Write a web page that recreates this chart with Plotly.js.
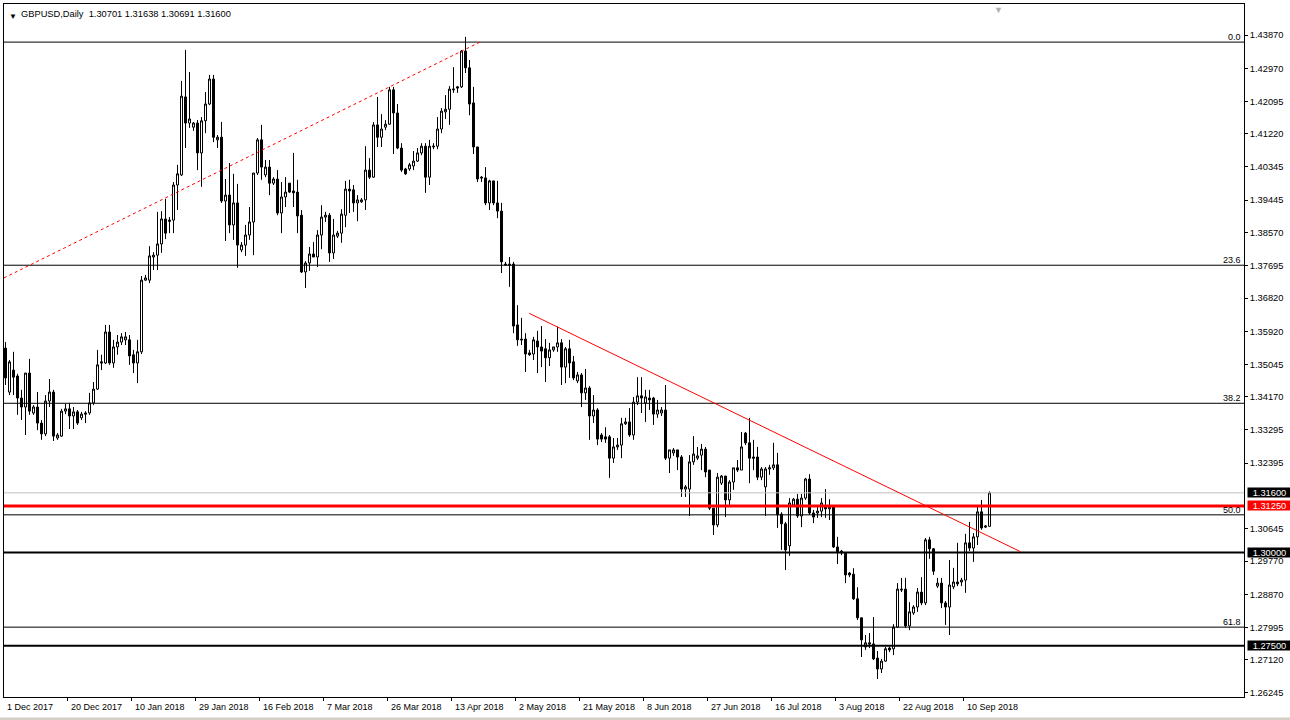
<!DOCTYPE html>
<html><head><meta charset="utf-8">
<script src="https://cdn.plot.ly/plotly-3.0.1.min.js"></script>
<style>html,body{margin:0;padding:0;background:#fff;overflow:hidden}#chart{width:1290px;height:720px;}</style>
</head><body><div id="chart"></div>
<script>
const symbolName = "GBPUSD,Daily";
const lastBarText = ["1.30701", "1.31638", "1.30691", "1.31600"];

const opens = [1.3548,1.3430,1.3489,1.3473,1.3414,1.3390,1.3481,1.3374,1.3390,1.3347,1.3318,1.3406,1.3430,1.3307,1.3312,1.3379,1.3385,1.3366,1.3377,1.3361,1.3374,1.3374,1.3401,1.3438,1.3511,1.3508,1.3591,1.3508,1.3551,1.3564,1.3570,1.3570,1.3530,1.3508,1.3538,1.3730,1.3730,1.3792,1.3797,1.3827,1.3894,1.3891,1.3891,1.3985,1.4012,1.4221,1.4151,1.4140,1.4151,1.4071,1.4157,1.4202,1.4269,1.4106,1.4113,1.3942,1.3958,1.3878,1.3937,1.3811,1.3824,1.3851,1.3886,1.4017,1.4106,1.4012,1.4033,1.3990,1.4001,1.3910,1.3953,1.3990,1.3969,1.3966,1.3904,1.3752,1.3776,1.3800,1.3792,1.3851,1.3899,1.3904,1.3803,1.3848,1.3856,1.3904,1.3974,1.3972,1.3937,1.3940,1.3945,1.4025,1.4006,1.4146,1.4113,1.4140,1.4148,1.4240,1.4178,1.4084,1.4028,1.4028,1.4036,1.4049,1.4071,1.4089,1.4006,1.4087,1.4089,1.4135,1.4181,1.4188,1.4240,1.4248,1.4248,1.4344,1.4299,1.4205,1.4087,1.4006,1.4004,1.3937,1.3996,1.3937,1.3915,1.3773,1.3773,1.3773,1.3610,1.3572,1.3572,1.3535,1.3532,1.3567,1.3551,1.3546,1.3522,1.3543,1.3551,1.3562,1.3497,1.3546,1.3511,1.3460,1.3476,1.3428,1.3441,1.3366,1.3382,1.3315,1.3310,1.3310,1.3253,1.3283,1.3288,1.3345,1.3350,1.3315,1.3403,1.3420,1.3401,1.3414,1.3414,1.3371,1.3374,1.3382,1.3253,1.3267,1.3275,1.3256,1.3170,1.3170,1.3243,1.3253,1.3261,1.3277,1.3221,1.3119,1.3074,1.3186,1.3205,1.3141,1.3189,1.3227,1.3221,1.3320,1.3294,1.3256,1.3256,1.3202,1.3176,1.3224,1.3227,1.3235,1.3103,1.3077,1.3018,1.3127,1.3143,1.3098,1.3146,1.3197,1.3106,1.3106,1.3111,1.3122,1.3117,1.3122,1.3015,1.3004,1.2999,1.2945,1.2942,1.2876,1.2825,1.2747,1.2758,1.2755,1.2717,1.2688,1.2709,1.2744,1.2742,1.2800,1.2902,1.2902,1.2803,1.2838,1.2854,1.2894,1.2865,1.3034,1.3010,1.2910,1.2918,1.2865,1.2854,1.2908,1.2921,1.2921,1.2926,1.3026,1.3012,1.3042,1.3109,1.3068,1.30701];
const highs = [1.3564,1.3516,1.3538,1.3479,1.3436,1.3481,1.3519,1.3395,1.3430,1.3355,1.3422,1.3465,1.3436,1.3320,1.3385,1.3398,1.3401,1.3390,1.3382,1.3377,1.3379,1.3428,1.3457,1.3543,1.3530,1.3610,1.3610,1.3570,1.3583,1.3588,1.3591,1.3583,1.3543,1.3570,1.3741,1.3744,1.3821,1.3805,1.3913,1.3915,1.3948,1.3899,1.3993,1.4039,1.4264,1.4347,1.4288,1.4154,1.4159,1.4167,1.4234,1.4280,1.4280,1.4119,1.4154,1.4001,1.4044,1.4015,1.3988,1.3832,1.3878,1.3926,1.4017,1.4111,1.4146,1.4052,1.4052,1.4006,1.4025,1.3993,1.4006,1.3990,1.4071,1.3999,1.3918,1.3781,1.3819,1.3832,1.3864,1.3931,1.3913,1.3910,1.3894,1.3862,1.3920,1.3996,1.3999,1.3985,1.3958,1.3950,1.4089,1.4057,1.4154,1.4221,1.4175,1.4159,1.4248,1.4248,1.4202,1.4097,1.4031,1.4044,1.4076,1.4084,1.4097,1.4097,1.4106,1.4097,1.4167,1.4191,1.4226,1.4250,1.4301,1.4250,1.4347,1.4382,1.4320,1.4248,1.4087,1.4009,1.4033,1.3999,1.3996,1.3996,1.3937,1.3779,1.3792,1.3779,1.3663,1.3629,1.3588,1.3543,1.3578,1.3594,1.3607,1.3572,1.3562,1.3551,1.3605,1.3572,1.3551,1.3570,1.3527,1.3484,1.3481,1.3492,1.3446,1.3422,1.3387,1.3320,1.3336,1.3315,1.3307,1.3307,1.3361,1.3361,1.3387,1.3417,1.3470,1.3470,1.3436,1.3436,1.3417,1.3409,1.3390,1.3449,1.3275,1.3280,1.3275,1.3261,1.3181,1.3261,1.3312,1.3283,1.3291,1.3283,1.3221,1.3119,1.3213,1.3208,1.3205,1.3194,1.3227,1.3248,1.3323,1.3323,1.3361,1.3302,1.3283,1.3229,1.3229,1.3235,1.3294,1.3267,1.3108,1.3082,1.3146,1.3146,1.3157,1.3157,1.3200,1.3210,1.3114,1.3125,1.3146,1.3170,1.3143,1.3127,1.3042,1.3007,1.2999,1.2948,1.2958,1.2907,1.2825,1.2779,1.2784,1.2827,1.2736,1.2715,1.2747,1.2747,1.2808,1.2918,1.2932,1.2932,1.2867,1.2859,1.2905,1.2934,1.3039,1.3042,1.3012,1.2932,1.2932,1.2870,1.2980,1.2959,1.3026,1.2932,1.3050,1.3082,1.3052,1.3122,1.3141,1.3074,1.31638];
const lows = [1.3449,1.3422,1.3422,1.3369,1.3355,1.3315,1.3369,1.3369,1.3328,1.3302,1.3312,1.3390,1.3299,1.3302,1.3310,1.3371,1.3331,1.3331,1.3342,1.3355,1.3347,1.3369,1.3395,1.3436,1.3489,1.3505,1.3503,1.3495,1.3530,1.3556,1.3556,1.3503,1.3481,1.3454,1.3532,1.3728,1.3722,1.3757,1.3757,1.3803,1.3840,1.3856,1.3856,1.3918,1.4009,1.4084,1.4138,1.4130,1.4025,1.3980,1.4124,1.4199,1.4100,1.4084,1.3937,1.3835,1.3856,1.3838,1.3763,1.3805,1.3795,1.3838,1.3797,1.4012,1.3999,1.4006,1.3958,1.3985,1.3904,1.3856,1.3926,1.3964,1.3926,1.3856,1.3749,1.3709,1.3755,1.3792,1.3765,1.3813,1.3886,1.3779,1.3787,1.3843,1.3830,1.3872,1.3910,1.3913,1.3888,1.3937,1.3918,1.4001,1.4004,1.4087,1.4087,1.4132,1.4146,1.4068,1.4081,1.4020,1.4012,1.4023,1.4025,1.4047,1.4065,1.3964,1.3985,1.4081,1.4081,1.4124,1.4162,1.4146,1.4232,1.4232,1.4245,1.4285,1.4172,1.4068,1.3993,1.3993,1.3931,1.3918,1.3931,1.3896,1.3749,1.3768,1.3712,1.3588,1.3554,1.3556,1.3484,1.3527,1.3516,1.3481,1.3497,1.3457,1.3500,1.3538,1.3538,1.3449,1.3454,1.3468,1.3462,1.3454,1.3390,1.3409,1.3302,1.3347,1.3288,1.3296,1.3294,1.3200,1.3240,1.3275,1.3253,1.3342,1.3310,1.3302,1.3395,1.3374,1.3350,1.3382,1.3342,1.3361,1.3366,1.3248,1.3213,1.3259,1.3221,1.3149,1.3149,1.3098,1.3235,1.3248,1.3221,1.3202,1.3114,1.3047,1.3068,1.3181,1.3095,1.3122,1.3168,1.3216,1.3221,1.3288,1.3186,1.3221,1.3194,1.3194,1.3098,1.3208,1.3221,1.3066,1.3007,1.2953,1.2991,1.3122,1.3093,1.3068,1.3141,1.3101,1.3079,1.3093,1.3095,1.3093,1.3087,1.3012,1.2969,1.2993,1.2918,1.2934,1.2873,1.2819,1.2720,1.2739,1.2744,1.2712,1.2661,1.2677,1.2707,1.2733,1.2725,1.2798,1.2894,1.2798,1.2792,1.2833,1.2841,1.2859,1.2859,1.2983,1.2940,1.2905,1.2851,1.2806,1.2779,1.2902,1.2910,1.2910,1.2892,1.3004,1.2975,1.3020,1.3061,1.3066,1.30691];
const closes = [1.3468,1.3511,1.3470,1.3414,1.3390,1.3481,1.3379,1.3390,1.3347,1.3318,1.3406,1.3430,1.3312,1.3315,1.3379,1.3385,1.3366,1.3377,1.3347,1.3371,1.3371,1.3401,1.3438,1.3503,1.3508,1.3591,1.3508,1.3551,1.3564,1.3578,1.3578,1.3527,1.3508,1.3538,1.3730,1.3736,1.3795,1.3797,1.3827,1.3894,1.3856,1.3888,1.3985,1.4015,1.4223,1.4151,1.4162,1.4151,1.4071,1.4157,1.4202,1.4269,1.4113,1.4113,1.3942,1.3958,1.3878,1.3937,1.3824,1.3824,1.3851,1.3886,1.4017,1.4106,1.4033,1.4033,1.3990,1.4001,1.3910,1.3953,1.3966,1.3966,1.3964,1.3902,1.3752,1.3776,1.3800,1.3792,1.3851,1.3899,1.3904,1.3803,1.3851,1.3856,1.3907,1.3974,1.3969,1.3937,1.3945,1.3945,1.4025,1.4006,1.4146,1.4113,1.4135,1.4148,1.4240,1.4178,1.4084,1.4025,1.4015,1.4039,1.4049,1.4071,1.4089,1.4006,1.4089,1.4089,1.4135,1.4183,1.4188,1.4242,1.4242,1.4245,1.4344,1.4299,1.4202,1.4087,1.4001,1.4004,1.3937,1.3996,1.3937,1.3915,1.3779,1.3771,1.3771,1.3607,1.3570,1.3570,1.3532,1.3530,1.3570,1.3551,1.3540,1.3522,1.3543,1.3551,1.3562,1.3497,1.3546,1.3508,1.3468,1.3476,1.3428,1.3441,1.3366,1.3382,1.3304,1.3304,1.3304,1.3253,1.3283,1.3288,1.3345,1.3350,1.3315,1.3403,1.3420,1.3414,1.3417,1.3409,1.3371,1.3382,1.3382,1.3253,1.3275,1.3275,1.3256,1.3170,1.3176,1.3243,1.3264,1.3259,1.3277,1.3216,1.3119,1.3074,1.3202,1.3205,1.3141,1.3189,1.3227,1.3221,1.3283,1.3294,1.3253,1.3253,1.3202,1.3224,1.3224,1.3227,1.3235,1.3101,1.3077,1.3007,1.3133,1.3143,1.3098,1.3146,1.3197,1.3106,1.3095,1.3111,1.3133,1.3117,1.3122,1.3015,1.3001,1.2999,1.2940,1.2940,1.2876,1.2825,1.2766,1.2758,1.2755,1.2715,1.2688,1.2709,1.2742,1.2739,1.2800,1.2902,1.2900,1.2803,1.2841,1.2854,1.2894,1.2865,1.3034,1.3010,1.2950,1.2918,1.2865,1.2854,1.2913,1.2921,1.2916,1.2926,1.3026,1.3012,1.3042,1.3109,1.3066,1.3071,1.31600];

const dateLabels = ["1 Dec 2017","20 Dec 2017","10 Jan 2018","29 Jan 2018","16 Feb 2018","7 Mar 2018","26 Mar 2018","13 Apr 2018","2 May 2018","21 May 2018","8 Jun 2018","27 Jun 2018","16 Jul 2018","3 Aug 2018","22 Aug 2018","10 Sep 2018"];
const barsPerDateLabel = 16;
const priceTicks = [1.43870,1.42970,1.42095,1.41220,1.40345,1.39445,1.38570,1.37695,1.36820,1.35920,1.35045,1.34170,1.33295,1.32395,1.30645,1.29770,1.28870,1.27995,1.27120,1.26245];

const fibLabels = ["0.0","23.6","38.2","50.0","61.8"];
const fibPrices = [1.4368,1.3770,1.3400,1.3101,1.2800];
const roundLevels = [1.3000,1.2750];
const resistanceLevel = 1.3125;
const bidLevel = 1.3160;
const dashedTrendBars = [-0.375,118.6];
const dashedTrendPrices = [1.3736,1.4368];
const solidTrendBars = [130.95,253.8];
const solidTrendPrices = [1.3641,1.3002];

const idx = opens.map((_, i) => i);
const FONT = "Liberation Sans, Arial, sans-serif";

const trace = {
  type: 'candlestick', x: idx, open: opens, high: highs, low: lows, close: closes,
  increasing: {line: {color: '#000000', width: 1}, fillcolor: '#ffffff'},
  decreasing: {line: {color: '#000000', width: 1}, fillcolor: '#000000'},
  whiskerwidth: 0, hoverinfo: 'skip', showlegend: false
};

const shapes = [];
fibPrices.forEach(p => shapes.push({type:'line', xref:'paper', x0:0, x1:1, yref:'y', y0:p, y1:p, line:{color:'#000000', width:1}}));
shapes.push({type:'line', xref:'paper', x0:0, x1:1, yref:'y', y0:bidLevel, y1:bidLevel, line:{color:'#C0C0C0', width:1}});
roundLevels.forEach(p => shapes.push({type:'line', xref:'paper', x0:0, x1:1, yref:'y', y0:p, y1:p, line:{color:'#000000', width:2}}));
shapes.push({type:'line', xref:'paper', x0:0, x1:1, yref:'y', y0:resistanceLevel, y1:resistanceLevel, line:{color:'#FF0000', width:3}});
shapes.push({type:'line', xref:'x', yref:'y', x0:dashedTrendBars[0], x1:dashedTrendBars[1], y0:dashedTrendPrices[0], y1:dashedTrendPrices[1], line:{color:'#FF0000', width:1, dash:'3px,3px'}});
shapes.push({type:'line', xref:'x', yref:'y', x0:solidTrendBars[0], x1:solidTrendBars[1], y0:solidTrendPrices[0], y1:solidTrendPrices[1], line:{color:'#FF0000', width:1}});
// light grey strip under the window
shapes.push({type:'rect', xref:'paper', yref:'paper', x0:-0.01, x1:1.04, y0:-0.0335, y1:-0.0295, line:{width:0}, fillcolor:'#D4D0C8'});

const annotations = [];
annotations.push({xref:'paper', yref:'paper', x:0, y:1, xanchor:'left', yanchor:'top', xshift:3, yshift:-6, text:'▼', showarrow:false, font:{family:FONT, size:8, color:'#000'}});
annotations.push({xref:'paper', yref:'paper', x:0, y:1, xanchor:'left', yanchor:'top', xshift:15, yshift:-3, text: symbolName + '&nbsp;&nbsp;' + lastBarText.join(' '), showarrow:false, font:{family:FONT, size:9.3, color:'#000'}});
annotations.push({xref:'x', yref:'paper', x:opens.length + 1.3, y:1, xanchor:'center', yanchor:'top', yshift:1, text:'▼', showarrow:false, font:{family:FONT, size:9, color:'#B0B0B0'}});
fibLabels.forEach((t, k) => annotations.push({xref:'paper', yref:'y', x:1, y:fibPrices[k], xanchor:'right', yanchor:'bottom', xshift:-1, yshift:-2, text:t, showarrow:false, font:{family:FONT, size:9, color:'#000'}}));
dateLabels.forEach((t, k) => annotations.push({xref:'x', yref:'paper', x:k*barsPerDateLabel, y:0, xanchor:'left', yanchor:'top', xshift:-1, yshift:-3, text:t, showarrow:false, font:{family:FONT, size:9, color:'#000'}}));
function tag(price, bg) {
  annotations.push({xref:'paper', yref:'y', x:1, y:price, xanchor:'left', yanchor:'middle', xshift:3, text:price.toFixed(5), showarrow:false, bgcolor:bg, borderpad:0, width:43, height:9, align:'center', font:{family:FONT, size:9.3, color:'#ffffff'}});
}
tag(bidLevel, '#000000');
tag(resistanceLevel, '#FF0000');
roundLevels.forEach(p => tag(p, '#000000'));

const layout = {
  width: 1290, height: 720,
  margin: {l: 4, r: 46, t: 4, b: 23},
  paper_bgcolor: '#ffffff', plot_bgcolor: '#ffffff',
  boxgap: 0.5, boxgroupgap: 0,
  showlegend: false,
  xaxis: {
    type: 'linear', range: [-0.375, 309.625], rangeslider: {visible: false},
    showgrid: false, zeroline: false, showline: true, mirror: true, linecolor: '#000', linewidth: 1,
    tickmode: 'array', tickvals: dateLabels.map((_, k) => k*barsPerDateLabel - 0.5), ticktext: dateLabels.map(() => ''),
    ticks: 'outside', ticklen: 3, tickcolor: '#000', showticklabels: false, fixedrange: true
  },
  yaxis: {
    side: 'right', range: [1.26128, 1.44701],
    showgrid: false, zeroline: false, showline: true, mirror: true, linecolor: '#000', linewidth: 1,
    tickmode: 'array', tickvals: priceTicks, ticktext: priceTicks.map(v => v.toFixed(5)),
    ticks: 'outside', ticklen: 3, tickcolor: '#000',
    tickfont: {family: FONT, size: 9.3, color: '#000'}, fixedrange: true
  },
  shapes: shapes, annotations: annotations
};

Plotly.newPlot('chart', [trace], layout, {staticPlot: true, displayModeBar: false});
</script>
</body></html>
